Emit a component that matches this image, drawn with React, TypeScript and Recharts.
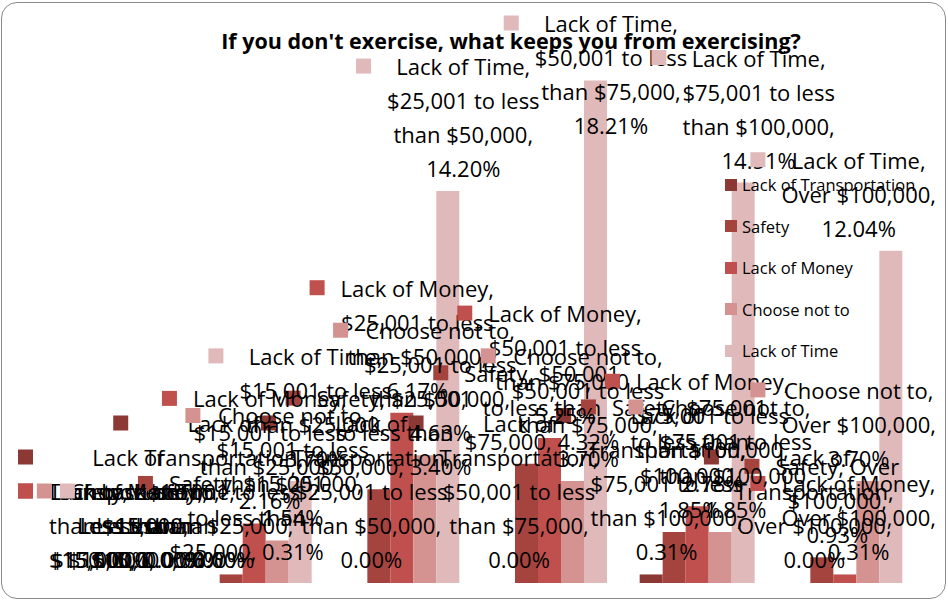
import { BarChart, Bar, XAxis, YAxis, LabelList } from 'recharts';

const categories = [
  'Less than $15,000',
  '$15,001 to less than $25,000',
  '$25,001 to less than $50,000',
  '$50,001 to less than $75,000',
  '$75,001 to less than $100,000',
  'Over $100,000',
];

const seriesNames = ['Lack of Transportation', 'Safety', 'Lack of Money', 'Choose not to', 'Lack of Time'];
const seriesKeys = ['transport', 'safety', 'money', 'choose', 'time'];
const seriesColors = ['#8C3936', '#A5443F', '#C0504D', '#D49391', '#E0BABA'];

// percent of respondents
const transport = [0, 0, 0, 0, 0.31, 0];
const safety = [0, 0.31, 3.4, 4.32, 1.85, 0.93];
const money = [0, 2.16, 6.17, 5.25, 2.78, 0.31];
const choose = [0, 1.54, 4.63, 3.7, 1.85, 3.7];
const time = [0, 3.7, 14.2, 18.21, 14.51, 12.04];

const data = categories.map((cat, i) => ({
  cat,
  transport: transport[i],
  safety: safety[i],
  money: money[i],
  choose: choose[i],
  time: time[i],
}));

const W = 948;
const H = 602;
const M = { top: 31, right: 30, bottom: 19, left: 32 };
const BAND = (W - M.left - M.right) / categories.length;
const LABEL_FONT = '22px "Open Sans"';
const LINE_H = 34;
const KEY = 15;
const KEY_GAP = 16;
const WRAP_W = 165;

let ctx: CanvasRenderingContext2D | null = null;
function textWidth(s: string) {
  if (!ctx) ctx = document.createElement('canvas').getContext('2d');
  if (!ctx) return s.length * 11;
  ctx.font = LABEL_FONT;
  return ctx.measureText(s).width;
}

function wrap(text: string, maxW: number) {
  const words = text.split(' ');
  const lines: string[] = [];
  let cur = '';
  for (const w of words) {
    const t = cur ? cur + ' ' + w : w;
    if (cur && textWidth(t) > maxW) {
      lines.push(cur);
      cur = w;
    } else cur = t;
  }
  if (cur) lines.push(cur);
  return lines;
}

// excel style "outside end" label with legend key, kept inside the chart area
function makeLabel(si: number) {
  return (props: any) => {
    const { x, y, width, height, value } = props;
    const cx = Number(x) + Number(width) / 2;
    const ci = Math.max(0, Math.min(categories.length - 1, Math.floor((cx - M.left) / BAND)));
    const v = Number(value);
    const yTop = Math.min(Number(y), Number(y) + Number(height));
    const lines = wrap(`${seriesNames[si]}, ${categories[ci]}, ${v.toFixed(2)}%`, WRAP_W);
    const textW = Math.max(...lines.map(textWidth));
    const blockW = KEY + KEY_GAP + textW;
    let left = cx - blockW / 2;
    left = Math.max(18, Math.min(936 - blockW, left));
    let top = yTop - 6 - lines.length * LINE_H;
    top = Math.max(6, top);
    const tx = left + KEY + KEY_GAP + textW / 2;
    return (
      <g>
        <rect x={left} y={top + LINE_H / 2 - KEY / 2} width={KEY} height={KEY} fill={seriesColors[si]} />
        {lines.map((ln, k) => (
          <text
            key={k}
            x={tx}
            y={top + LINE_H / 2 + k * LINE_H}
            textAnchor="middle"
            dominantBaseline="central"
            fontSize={22}
            fill="#000"
          >
            {ln}
          </text>
        ))}
      </g>
    );
  };
}

export default function App() {
  return (
    <div
      style={{
        position: 'absolute',
        left: 0,
        top: 0,
        width: W,
        height: H,
        background: '#fff',
        fontFamily: '"Open Sans", sans-serif',
      }}
    >
      <BarChart width={W} height={H} data={data} margin={M} barCategoryGap={17} barGap={0}>
        <XAxis dataKey="cat" hide />
        <XAxis dataKey="cat" xAxisId="lbl" hide />
        <YAxis domain={[0, 20]} hide />
        {seriesKeys.map((k, i) => (
          <Bar key={k} dataKey={k} fill={seriesColors[i]} isAnimationActive={false} />
        ))}
        {seriesKeys.map((k, i) => (
          <Bar
            key={'l' + k}
            dataKey={k}
            xAxisId="lbl"
            fill="none"
            minPointSize={1}
            isAnimationActive={false}
          >
            <LabelList dataKey={k} content={makeLabel(i)} />
          </Bar>
        ))}
      </BarChart>

      <div
        style={{
          position: 'absolute',
          left: 161,
          top: 27,
          width: 700,
          textAlign: 'center',
          fontWeight: 700,
          fontSize: 21.5,
          lineHeight: '28px',
          color: '#000',
        }}
      >
        If you don't exercise, what keeps you from exercising?
      </div>

      <div style={{ position: 'absolute', left: 725, top: 164 }}>
        {seriesNames.map((n, i) => (
          <div key={n} style={{ display: 'flex', alignItems: 'center', height: 41.5, fontSize: 16.5, color: '#000' }}>
            <span style={{ width: 12, height: 12, background: seriesColors[i], marginRight: 5, display: 'inline-block' }} />
            <span style={{ whiteSpace: 'nowrap' }}>{n}</span>
          </div>
        ))}
      </div>

      <div
        style={{
          position: 'absolute',
          left: 1,
          top: 2,
          width: 945,
          height: 597,
          boxSizing: 'border-box',
          border: '1.5px solid #8a8a8a',
          borderRadius: 16,
          pointerEvents: 'none',
        }}
      />
    </div>
  );
}
